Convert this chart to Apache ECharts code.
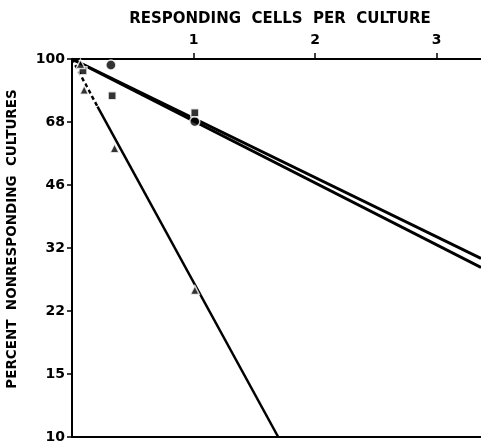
<!DOCTYPE html>
<html>
<head>
<meta charset="utf-8">
<script src="https://cdn.jsdelivr.net/npm/echarts@6/dist/echarts.min.js"></script>
<style>
  html, body { margin: 0; padding: 0; background: #fff; }
  #main { width: 481px; height: 444px; }
</style>
</head>
<body>
<div id="main"></div>
<script>
// tick labels
var xTicks = [1, 2, 3];
var yTickLabels = ['100', '68', '46', '32', '22', '15', '10'];

// measured points (x = responding cells per culture, y = percent nonresponding)
var circlePts = [[0.32, 96.4], [1.01, 68.2]];
var squarePts = [[0.09, 93.0], [0.33, 79.9], [1.01, 72.0]];
var trianglePts = [[0.07, 97.0], [0.10, 82.8], [0.35, 57.9], [1.01, 24.3]];

// fitted lines
var lineA = [[0, 100], [3.364, 29.5]];
var lineB = [[0, 100], [3.364, 27.9]];
var lineTriDash = [[0, 100], [0.21, 74.7]];
var lineTri = [[0.21, 74.7], [1.696, 9.886]];

var font = 'DejaVu Sans, sans-serif';
var yBottom = 100 * Math.pow(0.68, yTickLabels.length - 1);

var chart = echarts.init(document.getElementById('main'), null, { renderer: 'canvas' });

var markStyle = { color: '#000', borderColor: '#fff', borderWidth: 1.5 };

var option = {
    animation: false,
    backgroundColor: '#fff',
    grid: { left: 72, top: 59, right: 0, bottom: 4 },
    // y title sits a bit above the plot centre in the original
    graphic: [{
        type: 'text',
        x: 12,
        y: 239,
        rotation: Math.PI / 2,
        style: {
            text: 'PERCENT  NONRESPONDING  CULTURES',
            font: 'bold 13.5px DejaVu Sans, sans-serif',
            fill: '#000',
            align: 'center',
            verticalAlign: 'middle'
        }
    }],
    xAxis: [
        {
            type: 'value',
            position: 'top',
            min: 0,
            max: 3.364,
            name: 'RESPONDING  CELLS  PER  CULTURE',
            nameLocation: 'middle',
            nameGap: 32,
            nameTextStyle: { fontFamily: font, fontWeight: 'bold', fontSize: 15, color: '#000', padding: [0, 0, 0, 7] },
            axisLine: { show: true, lineStyle: { color: '#000', width: 2 } },
            axisTick: { show: true, customValues: xTicks, length: 6, lineStyle: { color: '#000', width: 1.5 } },
            axisLabel: { customValues: xTicks, margin: 12, fontFamily: font, fontWeight: 'bold', fontSize: 14, color: '#000' },
            splitLine: { show: false }
        },
        {
            type: 'value',
            position: 'bottom',
            min: 0,
            max: 3.364,
            axisLine: { show: true, lineStyle: { color: '#000', width: 2 } },
            axisTick: { show: false },
            axisLabel: { show: false },
            splitLine: { show: false }
        }
    ],
    yAxis: [
        {
            type: 'log',
            logBase: 10,
            min: yBottom,
            max: 100,
            show: false
        },
        {
            type: 'value',
            inverse: true,
            min: 0,
            max: yTickLabels.length - 1,
            interval: 1,
            position: 'left',
            axisLine: { show: true, lineStyle: { color: '#000', width: 2 } },
            axisTick: { show: true, length: 5, lineStyle: { color: '#000', width: 1.5 } },
            axisLabel: {
                margin: 7,
                fontFamily: font, fontWeight: 'bold', fontSize: 14, color: '#000',
                formatter: function (v) { return yTickLabels[v]; }
            },
            splitLine: { show: false }
        }
    ],
    series: [
        { type: 'line', data: lineA, symbol: 'none', lineStyle: { color: '#000', width: 3 } },
        { type: 'line', data: lineB, symbol: 'none', lineStyle: { color: '#000', width: 3 } },
        { type: 'line', data: lineTriDash, symbol: 'none', lineStyle: { color: '#000', width: 2.5, type: [4, 3] } },
        { type: 'line', data: lineTri, symbol: 'none', lineStyle: { color: '#000', width: 2.5 } },
        { type: 'scatter', data: circlePts, symbol: 'circle', symbolSize: 10, itemStyle: markStyle, z: 5 },
        { type: 'scatter', data: squarePts, symbol: 'rect', symbolSize: 8, itemStyle: markStyle, z: 5 },
        { type: 'scatter', data: trianglePts, symbol: 'triangle', symbolSize: 9, itemStyle: markStyle, z: 5 }
    ]
};
chart.setOption(option);
</script>
</body>
</html>
